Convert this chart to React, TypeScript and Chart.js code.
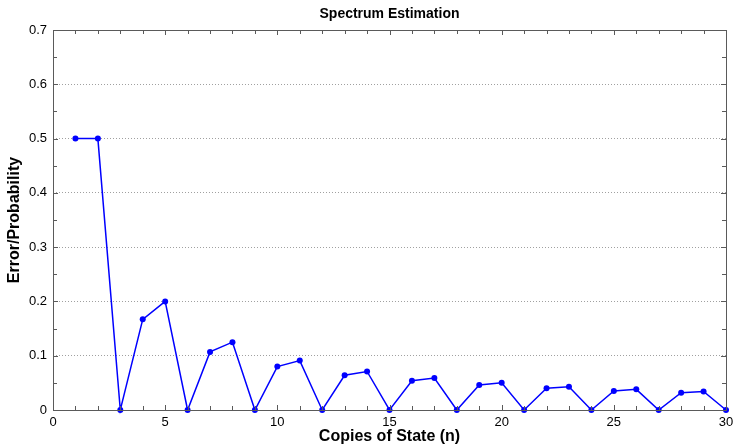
import React, { useEffect, useRef } from "react";
import { Chart, registerables } from "chart.js";

Chart.register(...registerables);

const copies = [1,2,3,4,5,6,7,8,9,10,11,12,13,14,15,16,17,18,19,20,21,22,23,24,25,26,27,28,29,30];
const errorProb = [0.5,0.5,0,0.167,0.2,0,0.107,0.125,0,0.08,0.091,0,0.064,0.071,0,0.054,0.059,0,0.046,0.05,0,0.04,0.043,0,0.035,0.038,0,0.032,0.034,0];
const xTicks = [0,5,10,15,20,25,30];
const yTicks = [0,0.1,0.2,0.3,0.4,0.5,0.6,0.7];
const titleText = "Spectrum Estimation";
const xTitle = "Copies of State (n)";
const yTitle = "Error/Probability";

const FONT = "Arial, 'Liberation Sans', sans-serif";

const framePlugin = {
  id: "frame",
  afterDraw(chart: any) {
    const ctx = chart.ctx;
    const { left, right, top, bottom } = chart.chartArea;
    const xs = chart.scales.x;
    const ys = chart.scales.y;
    ctx.save();
    ctx.strokeStyle = "#5a5a5a";
    ctx.lineWidth = 1;
    ctx.beginPath();
    ctx.rect(Math.round(left) + 0.5, Math.round(top) + 0.5, Math.round(right - left), Math.round(bottom - top));
    ctx.stroke();
    ctx.beginPath();
    for (let v = 0; v <= 30; v += 1) {
      const px = Math.round(xs.getPixelForValue(v)) + 0.5;
      const len = v % 5 === 0 ? 5 : 4;
      ctx.moveTo(px, bottom);
      ctx.lineTo(px, bottom - len);
      ctx.moveTo(px, top);
      ctx.lineTo(px, top + len);
    }
    for (let i = 0; i <= 14; i++) {
      const v = i * 0.05;
      const py = Math.round(ys.getPixelForValue(v)) + 0.5;
      const len = i % 2 === 0 ? 5 : 4;
      ctx.moveTo(left, py);
      ctx.lineTo(left + len, py);
      ctx.moveTo(right, py);
      ctx.lineTo(right - len, py);
    }
    ctx.stroke();
    ctx.fillStyle = "#000";
    ctx.font = "bold 14px " + FONT;
    ctx.textAlign = "center";
    ctx.textBaseline = "middle";
    ctx.fillText(titleText, (left + right) / 2, 14);
    ctx.font = "bold 16px " + FONT;
    ctx.fillText(xTitle, (left + right) / 2, 437);
    ctx.translate(15, (top + bottom) / 2);
    ctx.rotate(-Math.PI / 2);
    ctx.fillText(yTitle, 0, 0);
    ctx.restore();
  },
};

export default function App() {
  const ref = useRef<HTMLCanvasElement>(null);
  useEffect(() => {
    document.body.style.margin = "0";
    const chart = new Chart(ref.current as HTMLCanvasElement, {
      type: "scatter",
      data: {
        datasets: [
          {
            data: copies.map((c, i) => ({ x: c, y: errorProb[i] })),
            showLine: true,
            borderColor: "#0000ff",
            backgroundColor: "#0000ff",
            borderWidth: 1.5,
            pointRadius: 3,
            pointHoverRadius: 3,
            pointBorderWidth: 0,
            clip: false as any,
          },
        ],
      },
      options: {
        animation: false,
        responsive: false,
        maintainAspectRatio: false,
        layout: { padding: { top: 30, right: 8, left: 0, bottom: 0 } },
        plugins: { legend: { display: false }, title: { display: false }, tooltip: { enabled: false } },
        scales: {
          x: {
            type: "linear",
            min: 0,
            max: 30,
            afterBuildTicks: (s: any) => { s.ticks = xTicks.map((v) => ({ value: v })); },
            afterFit: (s: any) => { s.height = 34; s.paddingLeft = 0; s.paddingRight = 0; },
            grid: { display: false, drawTicks: false },
            border: { display: false },
            ticks: { padding: 5, color: "#000", font: { family: FONT, size: 13 }, maxRotation: 0, callback: (v: any) => String(v) },
          },
          y: {
            type: "linear",
            min: 0,
            max: 0.7,
            afterBuildTicks: (s: any) => { s.ticks = yTicks.map((v) => ({ value: v })); },
            afterFit: (s: any) => { s.width = 53; s.paddingTop = 0; s.paddingBottom = 0; },
            grid: { color: "#a0a0a0", drawTicks: false },
            border: { display: false, dash: [1, 2] },
            ticks: { padding: 6, color: "#000", font: { family: FONT, size: 13 }, callback: (v: any) => String(Math.round(v * 10) / 10) },
          },
        },
      },
      plugins: [framePlugin],
    } as any);
    return () => chart.destroy();
  }, []);
  return (
    <div style={{ width: 734, height: 444 }}>
      <canvas ref={ref} width={734} height={444} style={{ width: 734, height: 444 }} />
    </div>
  );
}
